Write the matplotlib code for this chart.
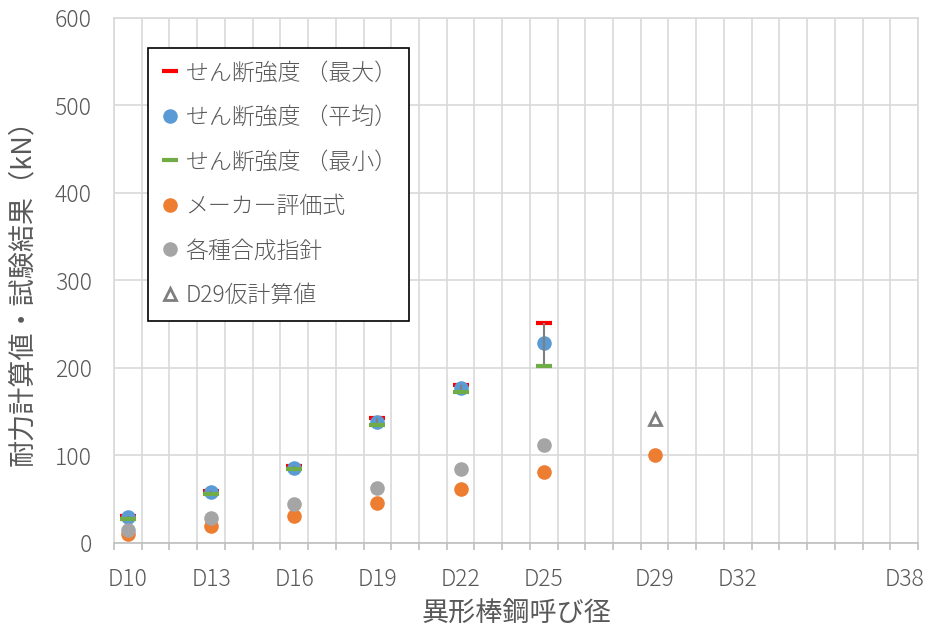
import numpy as np
import matplotlib
matplotlib.use("Agg")
import matplotlib.pyplot as plt
from matplotlib.lines import Line2D

plt.rcParams["font.family"] = ["Noto Sans CJK JP", "DejaVu Sans"]
plt.rcParams["font.weight"] = "light"

# 呼び径（D10〜D38）
all_sizes = list(range(10, 39))
tick_sizes = [10, 13, 16, 19, 22, 25, 29, 32, 38]

# せん断試験結果
test_sizes = [10, 13, 16, 19, 22, 25]
shear_max = [31, 59, 88, 143, 180, 251]
shear_avg = [30, 58, 86, 138, 177, 229]
shear_min = [27, 56, 84, 135, 173, 202]

# メーカー評価式
maker_sizes = [10, 13, 16, 19, 22, 25, 29]
maker_vals = [10, 19, 31, 46, 62, 81, 101]

# 各種合成指針
guide_sizes = [10, 13, 16, 19, 22, 25]
guide_vals = [15, 28, 44, 63, 85, 112]

# D29仮計算値
d29_size = [29]
d29_val = [142]

labels = ["せん断強度 （最大）", "せん断強度 （平均）", "せん断強度 （最小）",
          "メーカー評価式", "各種合成指針", "D29仮計算値"]

c_red = "#ff0000"
c_blue = "#5b9bd5"
c_green = "#70ad47"
c_orange = "#ed7d31"
c_gray = "#a5a5a5"
c_dark = "#7f7f7f"
c_text = "#595959"


def pos(sizes):
    return np.array(sizes) - all_sizes[0]


fig = plt.figure(figsize=(9.32, 6.35), dpi=100)
ax = fig.add_axes([0.1223, 0.1449, 0.8627, 0.8268])

ax.plot(pos(test_sizes), shear_max, ls="none", marker="_", ms=11, mew=3, color=c_red, zorder=3)
ax.plot(pos(test_sizes), shear_avg, ls="none", marker="o", ms=10.5, mec="none", color=c_blue, zorder=4)
avg = np.array(shear_avg)
ax.errorbar(pos(test_sizes), avg, yerr=[avg - np.array(shear_min), np.array(shear_max) - avg],
            fmt="none", ecolor=c_dark, elinewidth=1.5, capsize=0, zorder=5)
ax.plot(pos(test_sizes), shear_min, ls="none", marker="_", ms=11, mew=3, color=c_green, zorder=6)
ax.plot(pos(maker_sizes), maker_vals, ls="none", marker="o", ms=10.5, mec="none", color=c_orange, zorder=7)
ax.plot(pos(guide_sizes), guide_vals, ls="none", marker="o", ms=10.5, mec="none", color=c_gray, zorder=8)
ax.plot(pos(d29_size), d29_val, ls="none", marker="^", ms=8, mfc="white", mec=c_dark, mew=2, zorder=9)

ax.set_xlim(-0.5, len(all_sizes) - 0.5)
ax.set_ylim(0, 600)
ax.set_yticks(range(0, 601, 100))

ax.set_xticks(pos(tick_sizes))
ax.set_xticklabels(["D%d" % s for s in tick_sizes])
ax.set_xticks(np.arange(-0.5, len(all_sizes), 1.0), minor=True)

ax.grid(axis="y", which="major", color="#d9d9d9", lw=1.2)
ax.grid(axis="x", which="minor", color="#d9d9d9", lw=1.2)
ax.set_axisbelow(True)

ax.tick_params(axis="x", which="major", length=0, pad=17, labelsize=16.5, labelcolor=c_text)
ax.tick_params(axis="x", which="minor", length=5, width=1.2, color="#bfbfbf", direction="out")
ax.tick_params(axis="y", length=0, pad=16, labelsize=16.5, labelcolor=c_text)

for side in ["top", "right", "left"]:
    ax.spines[side].set_color("#d9d9d9")
    ax.spines[side].set_linewidth(1.2)
ax.spines["bottom"].set_color("#bfbfbf")
ax.spines["bottom"].set_linewidth(1.2)

ax.set_xlabel("異形棒鋼呼び径", fontsize=19.5, color=c_text)
ax.xaxis.set_label_coords(0.5, -0.108)
ax.set_ylabel("耐力計算値・試験結果（kN）", fontsize=19.5, color=c_text)
ax.yaxis.set_label_coords(-0.097, 0.49)

handles = [
    Line2D([], [], ls="none", marker="_", ms=11, mew=3, color=c_red),
    Line2D([], [], ls="none", marker="o", ms=10.5, mec="none", color=c_blue),
    Line2D([], [], ls="none", marker="_", ms=11, mew=3, color=c_green),
    Line2D([], [], ls="none", marker="o", ms=10.5, mec="none", color=c_orange),
    Line2D([], [], ls="none", marker="o", ms=10.5, mec="none", color=c_gray),
    Line2D([], [], ls="none", marker="^", ms=8, mfc="white", mec=c_dark, mew=2),
]
leg = ax.legend(handles, labels, loc="upper left", bbox_to_anchor=(0.042, 0.943),
                borderaxespad=0, fontsize=16.5, labelcolor=c_text, fancybox=False,
                edgecolor="black", framealpha=1, labelspacing=0.85, handlelength=0.8,
                handletextpad=0.3, borderpad=0.55)
leg.get_frame().set_linewidth(1.2)
leg.set_zorder(20)

fig.savefig("out.png", dpi=100)
